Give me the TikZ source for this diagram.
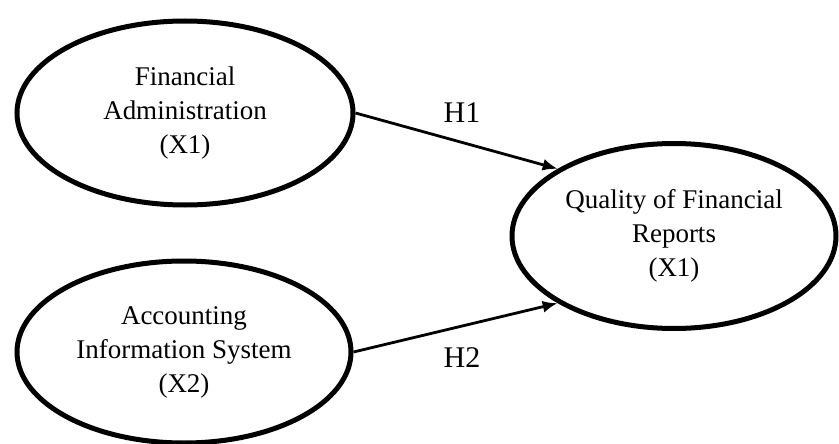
\documentclass[tikz,border=0pt]{standalone}
\usepackage{fontspec}
\setmainfont{Liberation Serif}
\usetikzlibrary{shapes.geometric,arrows.meta}
\begin{document}
\begin{tikzpicture}[x=1pt,y=-1pt,
  var/.style={draw=black,line width=5pt,ellipse,align=center,inner sep=0pt,
    font=\fontsize{27}{34}\selectfont},
  link/.style={line width=2.8pt,-{Latex[length=15pt,width=12pt]}},
  hlab/.style={font=\fontsize{30}{34}\selectfont}]
\useasboundingbox (0,0) rectangle (839,444);
\node[var,minimum width=336pt,minimum height=184pt] (A) at (185,113) {Financial\\Administration\\(X1)};
\node[var,minimum width=334pt,minimum height=182pt] (B) at (184,352) {Accounting\\Information System\\(X2)};
\node[var,minimum width=324pt,minimum height=185pt] (C) at (674,236) {Quality of Financial\\Reports\\(X1)};
\draw[link] (A.east) -- (C.150);
\draw[link] (B.east) -- (C.210);
\node[hlab] (h1) at (462,113) {H1};
\node[hlab] (h2) at (462,358) {H2};
\end{tikzpicture}
\end{document}
